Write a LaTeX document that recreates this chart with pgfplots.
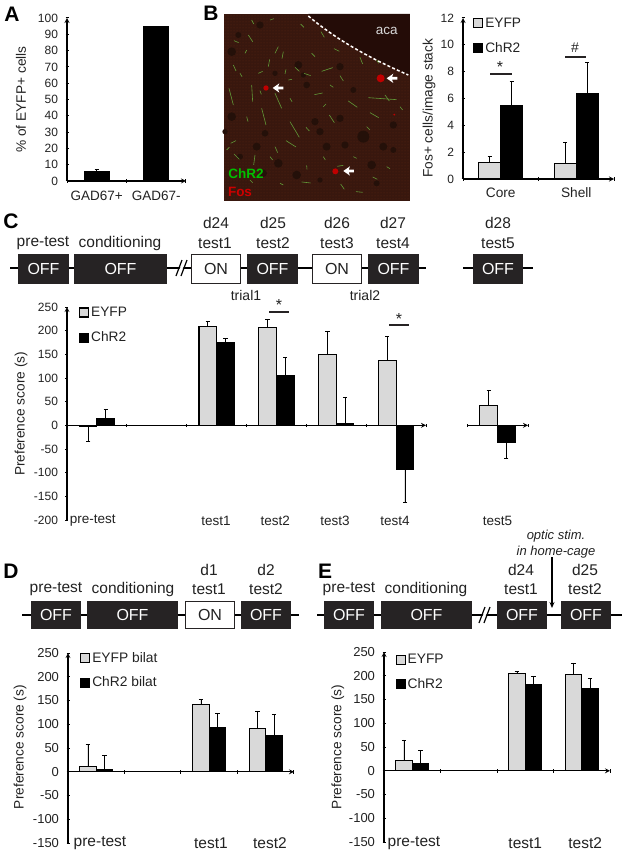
\documentclass[border=0pt]{standalone}
\usepackage{pgfplots}
\pgfplotsset{compat=1.18}
\usepackage{fontspec}
\setmainfont{Liberation Sans}
\usetikzlibrary{arrows.meta,patterns}

\definecolor{eyfpgray}{HTML}{D9D9D9}
\definecolor{boxdark}{HTML}{262324}
\definecolor{inkgray}{HTML}{222222}
\definecolor{tissue}{HTML}{38170E}
\definecolor{tissuedark}{HTML}{240C07}
\definecolor{speckle}{HTML}{5A2413}
\definecolor{cellhole}{HTML}{241009}
\definecolor{fibre}{HTML}{66A83C}

\newcommand{\fs}[1]{\fontsize{#1}{#1}\selectfont}

\pgfplotsset{
  panel/.style={
    scale only axis, clip=false,
    axis line style={-,line width=1.2pt,black},
    inner axis line style={-,line width=1.2pt,black},
    tick align=outside,
    major tick length=3pt, minor tick length=3.5pt,
    tick style={line width=1pt,black},
    major x tick style={draw=none},
    minor x tick style={draw=black,line width=1pt},
    hide obscured x ticks=false, hide obscured y ticks=false,
    /pgf/number format/assume math mode=true,
    tick label style={text=inkgray},
    y tick label style={xshift=-4pt},
    label style={text=inkgray,font=\fs{13.7}},
    ylabel={Preference score (s)},
    legend cell align=left,
    legend image code/.code={\draw[##1,line width=1.1pt] (0pt,-4.5pt) rectangle (9pt,4.5pt);},
  },
  errs/.style={
    error bars/y dir=plus,error bars/y explicit,
    error bars/error bar style={line width=#1,black},
    error bars/error mark options={rotate=90,mark size=2.2pt,line width=#1,black}},
  errs/.default=.7pt,
  eyfp/.style={ybar,bar shift=0pt,draw=black,fill=eyfpgray,line width=1.1pt},
  chr/.style={ybar,bar shift=0pt,draw=black,fill=black,line width=1.1pt},
}

\newcommand{\offbox}[4]{\fill[boxdark] (#1,#3) rectangle (#2,#4);
  \node[white,font=\fs{16}] at ({(#1+#2)/2},{(#3+#4)/2}) {OFF};}
\newcommand{\onbox}[4]{\draw[boxdark,fill=white,line width=1.5pt] (#1+.7,#3+.7) rectangle (#2-.7,#4-.7);
  \node[inkgray,font=\fs{16}] at ({(#1+#2)/2},{(#3+#4)/2}) {ON};}
\newcommand{\tl}[3]{\node[inkgray,font=\fs{15.5}] at (#1,#2) {#3};}
\newcommand{\brk}[2]{\fill[white] (#1-3,#2+4) -- (#1+1,#2-4) -- (#1+4,#2-4) -- (#1,#2+4) -- cycle;
  \draw[black,line width=1.2pt] (#1-5,#2+8) -- (#1+1,#2-8) (#1,#2+8) -- (#1+6,#2-8);}
\newcommand{\letter}[3]{\node[black,font=\bfseries\fs{21}] at (#1,#2) {#3};}

\begin{document}
\begin{tikzpicture}
\path[use as bounding box] (0,0) rectangle (624pt,-853pt);

% --- micrograph of panel B, drawn in zoomed pixel units
\begin{scope}[shift={(220pt,-10pt)},x=0.3333pt,y=-0.3333pt]
  \fill[tissue] (12,12) rectangle (570,572);
  \fill[pattern=dots,pattern color=speckle] (12,12) rectangle (570,572);
  \fill[tissuedark] (265,12) .. controls (350,90) and (450,140) .. (570,195) -- (570,12) -- cycle;
  \foreach \a/\b/\r in {120/45/11,55/75/9,35/125/13,235/165/12,360/170/11,165/190/8,260/225/10,35/320/13,285/335/11,360/325/11,430/380/18,300/365/11,320/410/12,375/405/11,110/410/12,135/370/10,15/365/8,520/345/11,490/410/12,455/465/13,175/460/13,230/495/13,130/490/11,250/195/8,400/240/9,520/420/9,60/440/9,470/520/9,300/510/8}
    \fill[cellhole] (\a,\b) circle (\r);
  \foreach \a/\b/\c/\d in {85/75/98/95,95/30/101/42,145/170/149/148,165/130/175/110,115/190/128/184,95/225/98/275,27/235/40/285,125/295/138/345,165/250/185/295,205/210/216/208,225/172/238/184,252/190/272/197,305/184/338/173,283/254/308/249,445/263/530/269,495/255/508/273,310/290/318/282,328/315/343/338,210/335/238/382,198/392/228/411,165/410/173/428,105/435/101/465,32/400/48/392,42/432/58/448,40/165/48/183,360/197/370/213,385/273/412/292,450/308/476/323,420/142/428/162,260/466/261/478,245/516/272/519,408/545/428/547,362/522/373/538,458/501/472/508,242/42/252/52,303/65/313/82,342/116/358/124,150/30/162/26,190/125/186/146,42/92/56/98,198/178/195/192,352/469/370/466,258/352/268/363,120/242/124/253,60/190/66/200,75/130/80/120,330/225/340/232,470/150/476/160,210/265/216/275,80/320/84/335,20/420/28/412,150/440/158/450,310/440/316/450,400/440/410/445,500/470/510/476,440/350/450/360,540/290/548/300,180/520/190/525,90/510/98/518,275/130/285/140}
    \draw[fibre,line width=.6pt,opacity=.9] (\a,\b) -- (\c,\d);
  \draw[white,line width=1.5pt,dash pattern=on 3pt off 2.2pt] (265,18) .. controls (350,90) and (450,145) .. (565,195);
  \fill[red!75!black] (138,234) circle (8) (482,205) circle (12) (346,484) circle (9) (523,314) circle (3);
  \foreach \a/\b in {158/234,500/205,370/483} {
    \fill[white] (\a,\b) -- (\a+20,\b-14) -- (\a+16,\b-4) -- (\a+32,\b-4) -- (\a+32,\b+4) -- (\a+16,\b+4) -- (\a+20,\b+14) -- cycle;
  }
  \node[white!85!black,font=\fs{13.5}] at (500,62) {aca};
  \node[green!75!black,font=\bfseries\fs{13.5}] at (78,492) {ChR2};
  \node[red!80!black,font=\bfseries\fs{13.5}] at (60,545) {Fos};
\end{scope}

% --- panel A
\begin{axis}[panel,
  at={(67pt,-18pt)},anchor=north west,width=119pt,height=163pt,
  axis x line=bottom,axis y line=left,
  xmin=0,xmax=2,ymin=0,ymax=100,
  ytick={0,10,...,100},
  xtick={0.5,1.5},xticklabels={GAD67+,GAD67-},
  minor xtick={0,1,2},
  yticklabel style={font=\fs{12}},
  xticklabel style={font=\fs{13.5},yshift=-5pt},
  y label style={at={(axis description cs:-0.387,0.5)},anchor=center},
  ylabel={\% of EYFP+ cells},
]
\addplot[chr,bar width=25pt,errs=1.1pt] coordinates {
  (0.5,5.7) +- (0,1.1)
  (1.5,94.5) +- (0,0.5)
};
\end{axis}

% --- panel B bars
\begin{axis}[panel,
  at={(463pt,-18pt)},anchor=north west,width=151pt,height=161pt,
  axis x line=bottom,axis y line=left,
  xmin=0,xmax=2,ymin=0,ymax=12,
  ytick={0,2,...,12},
  xtick={0.5,1.5},xticklabels={Core,Shell},
  minor xtick={0,1,2},
  yticklabel style={font=\fs{12}},
  xticklabel style={font=\fs{13.7},yshift=-4pt},
  y label style={at={(axis description cs:-0.225,0.44)},anchor=center},
  ylabel={Fos+ cells/image stack},
  legend style={at={(axis description cs:0.066,1.015)},anchor=north west,draw=none,fill=none,
    font=\fs{13.7},row sep=10pt,inner sep=0pt,text=inkgray},
]
\addplot[eyfp,bar width=22pt,errs=1.1pt] coordinates {
  (0.354,1.25) +- (0,0.4)
  (1.354,1.15) +- (0,1.6)
};
\addlegendentry{EYFP}
\addplot[chr,bar width=22pt,errs=1.1pt] coordinates {
  (0.646,5.5) +- (0,1.8)
  (1.646,6.35) +- (0,2.3)
};
\addlegendentry{ChR2}
\end{axis}

% --- panel C, first block
\begin{axis}[panel,
  at={(67pt,-307pt)},anchor=north west,width=359pt,height=213pt,
  axis x line=middle,axis y line=left,
  xmin=0,xmax=6,ymin=-200,ymax=250,
  ytick={-200,-150,...,250},
  xtick={0.43,2.49,3.48,4.48,5.48},xticklabels={pre-test,test1,test2,test3,test4},
  minor xtick={0,1,...,6},
  yticklabel style={font=\fs{12}},
  xticklabel style={font=\fs{13.5},anchor=center,yshift=-94pt},
  y label style={at={(axis description cs:-0.128,0.498)},anchor=center},
  legend style={at={(axis description cs:0.033,1.01)},anchor=north west,draw=none,fill=none,
    font=\fs{13.7},row sep=10pt,inner sep=0pt,text=inkgray},
]
\addplot[eyfp,bar width=17.6pt,errs] coordinates {
  (0.353,-3) +- (0,-30)
  (2.353,208) +- (0,11)
  (3.353,206) +- (0,17)
  (4.353,150) +- (0,49)
  (5.353,137) +- (0,50)
};
\addlegendentry{EYFP}
\addplot[chr,bar width=17.6pt,errs] coordinates {
  (0.647,15) +- (0,19)
  (2.647,174) +- (0,9)
  (3.647,105) +- (0,39)
  (4.647,3) +- (0,57)
  (5.647,-94) +- (0,-68)
};
\addlegendentry{ChR2}
\end{axis}

% --- panel C, test5 block
\begin{axis}[panel,
  at={(467pt,-307pt)},anchor=north west,width=61pt,height=213pt,
  axis x line=middle,axis y line=none,
  xmin=0,xmax=1,ymin=-200,ymax=250,
  xtick={0.5},xticklabels={test5},
  minor xtick={0,1},
  xticklabel style={font=\fs{13.5},anchor=center,yshift=-94pt},
  ylabel={},
]
\addplot[eyfp,bar width=17.6pt,errs] coordinates {(0.356,41) +- (0,33)};
\addplot[chr,bar width=17.6pt,errs] coordinates {(0.644,-37) +- (0,-32)};
\end{axis}

% --- panel D
\begin{axis}[panel,
  at={(68pt,-653pt)},anchor=north west,width=226pt,height=190pt,
  axis x line=middle,axis y line=left,
  xmin=0,xmax=4,ymin=-150,ymax=250,
  ytick={-150,-100,...,250},
  xtick={0.566,2.53,3.575},xticklabels={pre-test,test1,test2},
  minor xtick={0,1,...,4},
  yticklabel style={font=\fs{13}},
  xticklabel style={font=\fs{15.5},anchor=center,yshift=-70pt},
  y label style={at={(axis description cs:-0.212,0.505)},anchor=center},
  legend style={at={(axis description cs:0.053,1.015)},anchor=north west,draw=none,fill=none,
    font=\fs{13.8},row sep=9pt,inner sep=0pt,text=inkgray},
]
\addplot[eyfp,bar width=16.6pt,errs] coordinates {
  (0.353,12) +- (0,45)
  (2.353,141) +- (0,11)
  (3.353,91) +- (0,37)
};
\addlegendentry{EYFP bilat}
\addplot[chr,bar width=16.6pt,errs] coordinates {
  (0.647,4) +- (0,31)
  (2.647,93) +- (0,29)
  (3.647,76) +- (0,44)
};
\addlegendentry{ChR2 bilat}
\end{axis}

% --- panel E
\begin{axis}[panel,
  at={(384pt,-652pt)},anchor=north west,width=226pt,height=190pt,
  axis x line=middle,axis y line=left,
  xmin=0,xmax=4,ymin=-150,ymax=250,
  ytick={-150,-100,...,250},
  xtick={0.53,2.5,3.56},xticklabels={pre-test,test1,test2},
  minor xtick={0,1,...,4},
  yticklabel style={font=\fs{13}},
  xticklabel style={font=\fs{15.5},anchor=center,yshift=-71pt},
  y label style={at={(axis description cs:-0.204,0.5)},anchor=center},
  legend style={at={(axis description cs:0.05,1.0)},anchor=north west,draw=none,fill=none,
    font=\fs{13.8},row sep=9pt,inner sep=0pt,text=inkgray},
]
\addplot[eyfp,bar width=16.6pt,errs] coordinates {
  (0.353,21) +- (0,44)
  (2.353,205) +- (0,5)
  (3.353,203) +- (0,24)
};
\addlegendentry{EYFP}
\addplot[chr,bar width=16.6pt,errs] coordinates {
  (0.647,15) +- (0,27)
  (2.647,182) +- (0,17)
  (3.647,174) +- (0,21)
};
\addlegendentry{ChR2}
\end{axis}

% --- annotations, in image pixels
\begin{scope}[x=1pt,y=-1pt]
  \letter{12}{14}{A}
  \letter{211}{13}{B}
  \letter{11}{221}{C}
  \letter{11}{571}{D}
  \letter{325}{571}{E}

  % significance marks, panel B and C
  \draw[boxdark,line width=1.2pt] (490,74) -- (512,74) (565,57) -- (586,57);
  \node[inkgray,font=\fs{16}] at (500,67) {*};
  \node[inkgray,font=\fs{14}] at (575,48) {\#};
  \draw[boxdark,line width=1.2pt] (269,312) -- (289,312) (389,325) -- (409,325);
  \node[inkgray,font=\fs{16}] at (279,305) {*};
  \node[inkgray,font=\fs{16}] at (399,319) {*};

  % timeline C
  \draw[black,line width=1.4pt] (10,268) -- (426,268) (463,268) -- (533,268);
  \brk{181}{268}
  \offbox{18}{69}{254}{284}
  \offbox{74}{167}{254}{284}
  \onbox{191}{241}{254}{284}
  \offbox{247}{298}{254}{284}
  \onbox{312}{362}{254}{284}
  \offbox{368}{419}{254}{284}
  \offbox{473}{523}{254}{284}
  \tl{43}{243}{pre-test}
  \tl{120}{243}{conditioning}
  \tl{216}{223}{d24} \tl{215}{243}{test1}
  \tl{273}{223}{d25} \tl{273}{243}{test2}
  \tl{337}{223}{d26} \tl{337}{243}{test3}
  \tl{393}{223}{d27} \tl{393}{243}{test4}
  \tl{498}{223}{d28} \tl{498}{243}{test5}
  \node[inkgray,font=\fs{14}] at (246,295) {trial1};
  \node[inkgray,font=\fs{14}] at (365,295) {trial2};

  % timeline D
  \draw[black,line width=1.4pt] (22,615) -- (299,615);
  \offbox{31}{81}{601}{629}
  \offbox{87}{178}{601}{629}
  \onbox{185}{235}{601}{629}
  \offbox{241}{291}{601}{629}
  \tl{56}{589}{pre-test}
  \tl{133}{589}{conditioning}
  \tl{209}{570}{d1} \tl{209}{589}{test1}
  \tl{266}{570}{d2} \tl{266}{589}{test2}

  % timeline E
  \draw[black,line width=1.4pt] (317,615) -- (622,615);
  \brk{484}{615}
  \offbox{324}{374}{601}{629}
  \offbox{381}{472}{601}{629}
  \offbox{497}{547}{601}{629}
  \offbox{561}{611}{601}{629}
  \tl{349}{589}{pre-test}
  \tl{426}{589}{conditioning}
  \tl{521}{570}{d24} \tl{521}{589}{test1}
  \tl{585}{570}{d25} \tl{585}{589}{test2}
  \draw[black,line width=1.2pt,-{Stealth[length=6pt,width=5pt]}] (552,557) -- (552,608);
  \node[inkgray,font=\itshape\fs{13}] at (556,536) {optic stim.};
  \node[inkgray,font=\itshape\fs{13}] at (556,552) {in home-cage};
\end{scope}
\end{tikzpicture}
\end{document}
